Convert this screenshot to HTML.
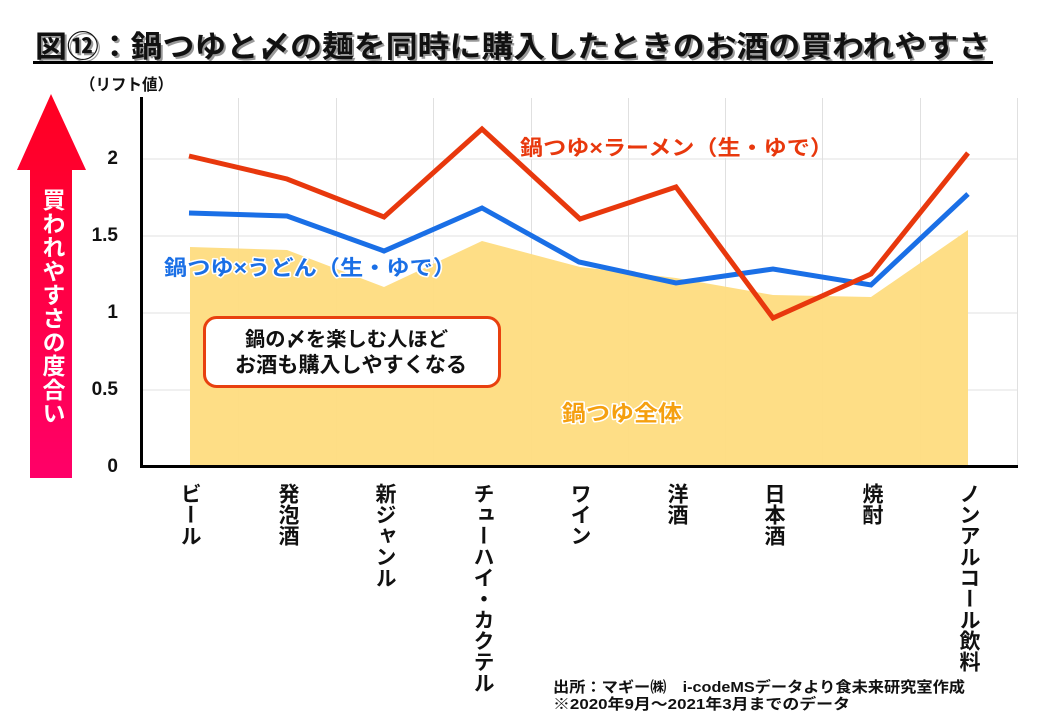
<!DOCTYPE html>
<html><head><meta charset="utf-8">
<style>
html,body{margin:0;padding:0;background:#fff;}
body{width:1040px;height:720px;position:relative;overflow:hidden;font-family:"Liberation Sans","Noto Sans CJK JP",sans-serif;}
svg{position:absolute;left:0;top:0;}
.xl{position:absolute;top:483px;writing-mode:vertical-rl;text-orientation:upright;font-family:"Liberation Sans","Noto Sans CJK JP",sans-serif;font-weight:bold;font-size:21px;line-height:21px;width:21px;color:#111;white-space:nowrap;}
.arrowtxt{position:absolute;left:40px;top:188px;writing-mode:vertical-rl;text-orientation:upright;font-family:"Liberation Sans","Noto Sans CJK JP",sans-serif;font-weight:bold;font-size:23px;line-height:23px;width:23px;letter-spacing:0.7px;color:#fff;white-space:nowrap;}
</style></head>
<body>
<svg width="1040" height="720" viewBox="0 0 1040 720" xmlns="http://www.w3.org/2000/svg" font-family="'Liberation Sans','Noto Sans CJK JP',sans-serif" font-weight="bold">
  <defs>
    <linearGradient id="ag" x1="0" y1="0" x2="0" y2="1">
      <stop offset="0" stop-color="#ff0020"/>
      <stop offset="1" stop-color="#ff0068"/>
    </linearGradient>
  </defs>
  <!-- Title -->
  <text x="37" y="59" font-size="30" fill="#999" textLength="955" lengthAdjust="spacingAndGlyphs">図⑫：鍋つゆと〆の麺を同時に購入したときのお酒の買われやすさ</text>
  <text x="35" y="57" font-size="30" fill="#111" textLength="955" lengthAdjust="spacingAndGlyphs">図⑫：鍋つゆと〆の麺を同時に購入したときのお酒の買われやすさ</text>
  <rect x="33" y="61" width="960" height="3" fill="#000"/>

  <!-- unit -->
  <text x="80" y="90" font-size="16" fill="#111" textLength="93" lengthAdjust="spacingAndGlyphs">（リフト値）</text>

  <!-- Arrow -->
  <polygon points="51,94 86,170 72,170 72,478 30,478 30,170 17,170" fill="url(#ag)"/>

  <!-- gridlines -->
  <g stroke="#e0e0e0" stroke-width="1">
    <line x1="141" y1="159" x2="1017" y2="159"/>
    <line x1="141" y1="236" x2="1017" y2="236"/>
    <line x1="141" y1="313" x2="1017" y2="313"/>
    <line x1="141" y1="390" x2="1017" y2="390"/>
    <line x1="238.5" y1="98" x2="238.5" y2="466"/>
    <line x1="336.5" y1="98" x2="336.5" y2="466"/>
    <line x1="433.5" y1="98" x2="433.5" y2="466"/>
    <line x1="531.5" y1="98" x2="531.5" y2="466"/>
    <line x1="628.5" y1="98" x2="628.5" y2="466"/>
    <line x1="725.5" y1="98" x2="725.5" y2="466"/>
    <line x1="822.5" y1="98" x2="822.5" y2="466"/>
    <line x1="920.5" y1="98" x2="920.5" y2="466"/>
    <line x1="1017.5" y1="98" x2="1017.5" y2="466"/>
  </g>

  <!-- fill area -->
  <polygon points="190,466 190,247 287,250 384,287 482,241 580,267 676,278 773,295 871,297 968,230 968,466" fill="#fedc80" fill-opacity="0.95"/>

  <!-- lines -->
  <polyline points="189,213 287,216 384,251 482,208 579,262 676,283 773,269 871,285 968,194" fill="none" stroke="#1a6fe6" stroke-width="5" stroke-linejoin="miter"/>
  <polyline points="189,156 287,179 384,217 482,129 580,219 676,187 773,318 871,274 968,153" fill="none" stroke="#e8380d" stroke-width="5" stroke-linejoin="miter"/>

  <!-- axes -->
  <rect x="140" y="97" width="3" height="371" fill="#000"/>
  <rect x="140" y="465" width="878" height="3" fill="#000"/>

  <!-- y tick labels -->
  <g font-size="19" fill="#111" text-anchor="end">
    <text x="118" y="164">2</text>
    <text x="118" y="241">1.5</text>
    <text x="118" y="318">1</text>
    <text x="118" y="395">0.5</text>
    <text x="118" y="472">0</text>
  </g>

  <!-- series labels -->
  <text x="520" y="155" font-size="21" fill="#e8380d" stroke="#fff" stroke-width="3" paint-order="stroke" stroke-linejoin="round" textLength="313" lengthAdjust="spacingAndGlyphs">鍋つゆ×ラーメン（生・ゆで）</text>
  <text x="164" y="275" font-size="21" fill="#1a6fe6" stroke="#fff" stroke-width="3" paint-order="stroke" stroke-linejoin="round" textLength="292" lengthAdjust="spacingAndGlyphs">鍋つゆ×うどん（生・ゆで）</text>
  <text x="562" y="421" font-size="22" fill="#f5a00f" stroke="#fff" stroke-width="3" paint-order="stroke" stroke-linejoin="round" textLength="120" lengthAdjust="spacingAndGlyphs">鍋つゆ全体</text>

  <!-- callout box -->
  <rect x="204.5" y="317.5" width="295" height="69" rx="12" ry="12" fill="#fff" stroke="#e8400f" stroke-width="3"/>
  <text x="245" y="346" font-size="20" fill="#111" textLength="203" lengthAdjust="spacingAndGlyphs">鍋の〆を楽しむ人ほど</text>
  <text x="235" y="372" font-size="21" fill="#111" textLength="232" lengthAdjust="spacingAndGlyphs">お酒も購入しやすくなる</text>

  <!-- source -->
  <text x="553" y="692" font-size="15" fill="#111" textLength="412" lengthAdjust="spacingAndGlyphs">出所：マギー㈱　i-codeMSデータより食未来研究室作成</text>
  <text x="553" y="709" font-size="15" fill="#111" textLength="297" lengthAdjust="spacingAndGlyphs">※2020年9月～2021年3月までのデータ</text>
</svg>

<div class="arrowtxt">買われやすさの度合い</div>

<div class="xl" style="left:179px;">ビール</div>
<div class="xl" style="left:277px;">発泡酒</div>
<div class="xl" style="left:374px;">新ジャンル</div>
<div class="xl" style="left:472px;">チューハイ・カクテル</div>
<div class="xl" style="left:569px;">ワイン</div>
<div class="xl" style="left:666px;">洋酒</div>
<div class="xl" style="left:763px;">日本酒</div>
<div class="xl" style="left:861px;">焼酎</div>
<div class="xl" style="left:958px;">ノンアルコール飲料</div>
</body></html>
